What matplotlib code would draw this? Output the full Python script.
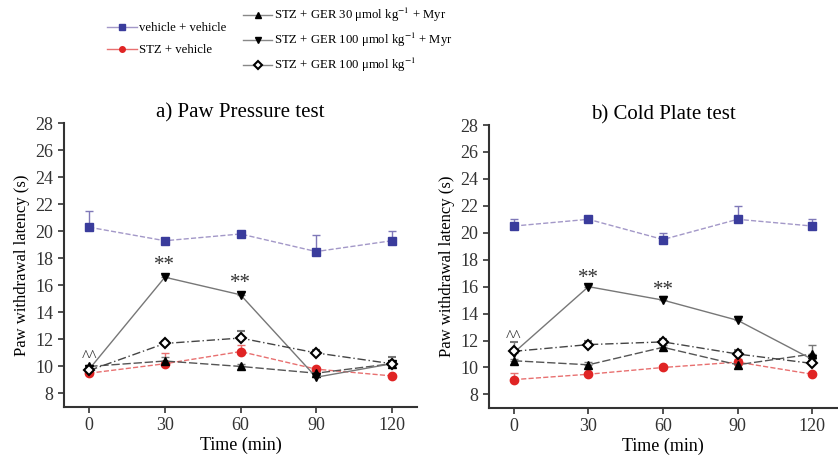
import numpy as np
import matplotlib
matplotlib.use("Agg")
import matplotlib.pyplot as plt
from matplotlib.lines import Line2D

plt.rcParams['font.family'] = ['Liberation Serif', 'DejaVu Serif']
plt.rcParams['mathtext.fontset'] = 'stix'

time = [0, 30, 60, 90, 120]
y_ticks = [8, 10, 12, 14, 16, 18, 20, 22, 24, 26, 28]

labels = ['vehicle + vehicle', 'STZ + vehicle',
          'STZ + GER 30 μmol kg$^{-1}$ + Myr',
          'STZ + GER 100 μmol kg$^{-1}$ + Myr',
          'STZ + GER 100 μmol kg$^{-1}$']

# a) Paw Pressure test
pp_veh = [20.3, 19.3, 19.8, 18.5, 19.3]
pp_veh_err = [1.2, 0.2, 0.2, 1.2, 0.7]
pp_stz = [9.5, 10.2, 11.1, 9.8, 9.3]
pp_stz_err = [0.1, 0.8, 0.5, 0.1, 0.1]
pp_ger30_myr = [10.0, 10.4, 10.0, 9.5, 10.2]
pp_ger30_myr_err = [0.1, 0.3, 0.2, 0.1, 0.2]
pp_ger100_myr = [9.8, 16.6, 15.3, 9.2, 10.2]
pp_ger100_myr_err = [0.1, 0.2, 0.2, 0.2, 0.2]
pp_ger100 = [9.7, 11.7, 12.1, 11.0, 10.2]
pp_ger100_err = [0.1, 0.2, 0.5, 0.2, 0.5]

# b) Cold Plate test
cp_veh = [20.5, 21.0, 19.5, 21.0, 20.5]
cp_veh_err = [0.5, 0.1, 0.5, 1.0, 0.5]
cp_stz = [9.1, 9.5, 10.0, 10.4, 9.5]
cp_stz_err = [0.5, 0.1, 0.1, 0.2, 0.1]
cp_ger30_myr = [10.5, 10.2, 11.5, 10.2, 11.0]
cp_ger30_myr_err = [0.1, 0.2, 0.2, 0.2, 0.7]
cp_ger100_myr = [11.1, 16.0, 15.0, 13.5, 10.6]
cp_ger100_myr_err = [0.1, 0.1, 0.3, 0.3, 0.2]
cp_ger100 = [11.2, 11.7, 11.9, 11.0, 10.3]
cp_ger100_err = [0.7, 0.3, 0.2, 0.3, 0.2]

# significance marks: (x, y, text)
pp_marks = [(30, 17.5, '**'), (60, 16.1, '**'), (0, 10.7, '^^')]
cp_marks = [(30, 16.6, '**'), (60, 15.7, '**'), (0, 12.3, '^^')]

styles = [
    dict(color='#a398c8', ls='--', marker='s', mfc='#3a3c9c', mec='#3a3c9c', ms=6, ecolor='#7f78b8'),
    dict(color='#e87070', ls='--', marker='o', mfc='#e02424', mec='#e02424', ms=6, ecolor='#e87070'),
    dict(color='#555555', ls=(0, (6, 2)), marker='^', mfc='black', mec='black', ms=6, ecolor='#777777'),
    dict(color='#777777', ls='-', marker='v', mfc='black', mec='black', ms=6, ecolor='#777777'),
    dict(color='#444444', ls=(0, (6, 2, 1, 2)), marker='D', mfc='white', mec='black', ms=5, mew=1.5, ecolor='#777777'),
]

fig = plt.figure(figsize=(8.38, 4.63), dpi=100)
ax_a = fig.add_axes([0.0764, 0.121, 0.4212, 0.613])
ax_b = fig.add_axes([0.5835, 0.119, 0.4155, 0.611])


def draw_panel(ax, series, errs, marks, title):
    for (vals, err, st) in zip(series, errs, styles):
        st = dict(st)
        ecolor = st.pop('ecolor')
        ax.errorbar(time, vals, yerr=[np.zeros(len(err)), err], lw=1.0,
                    ecolor=ecolor, elinewidth=1.0, capsize=3, capthick=1.0, **st)
    for x, y, s in marks:
        fs = 15 if s == '**' else 12
        ax.text(x, y, s, ha='center', va='center', fontsize=fs, color='#333333')
    ax.set_xlim(-10, 130)
    ax.set_ylim(7, 28)
    ax.set_xticks(time)
    ax.set_yticks(y_ticks)
    ax.tick_params(labelsize=13, direction='out', length=4, width=1.2, colors='#333333')
    for side in ['top', 'right']:
        ax.spines[side].set_visible(False)
    for side in ['left', 'bottom']:
        ax.spines[side].set_linewidth(1.5)
        ax.spines[side].set_color('#333333')
    ax.set_xlabel('Time (min)', fontsize=13, labelpad=2)
    ax.set_ylabel('Paw withdrawal latency (s)', fontsize=12, labelpad=4)
    ax.set_title(title, fontsize=15, pad=4)


draw_panel(ax_a, [pp_veh, pp_stz, pp_ger30_myr, pp_ger100_myr, pp_ger100],
           [pp_veh_err, pp_stz_err, pp_ger30_myr_err, pp_ger100_myr_err, pp_ger100_err],
           pp_marks, 'a) Paw Pressure test')
draw_panel(ax_b, [cp_veh, cp_stz, cp_ger30_myr, cp_ger100_myr, cp_ger100],
           [cp_veh_err, cp_stz_err, cp_ger30_myr_err, cp_ger100_myr_err, cp_ger100_err],
           cp_marks, 'b) Cold Plate test')

# legend handles: short solid lines with the series marker
handles = []
for st in styles:
    handles.append(Line2D([], [], color=st['color'] if st['marker'] in 'so' else '#888888',
                          lw=1.0, marker=st['marker'], mfc=st['mfc'], mec=st['mec'],
                          ms=4, mew=st.get('mew', 1.0)))

fig.legend(handles[:2], labels[:2], loc='upper left', bbox_to_anchor=(0.128, 0.952),
           frameon=False, fontsize=9.2, handlelength=2.3, handletextpad=0.15,
           labelspacing=0.8, borderpad=0, borderaxespad=0)
fig.legend(handles[2:], labels[2:], loc='upper left', bbox_to_anchor=(0.29, 0.987),
           frameon=False, fontsize=9.2, handlelength=2.3, handletextpad=0.15,
           labelspacing=0.55, borderpad=0, borderaxespad=0)

fig.savefig('out.png', dpi=100)
